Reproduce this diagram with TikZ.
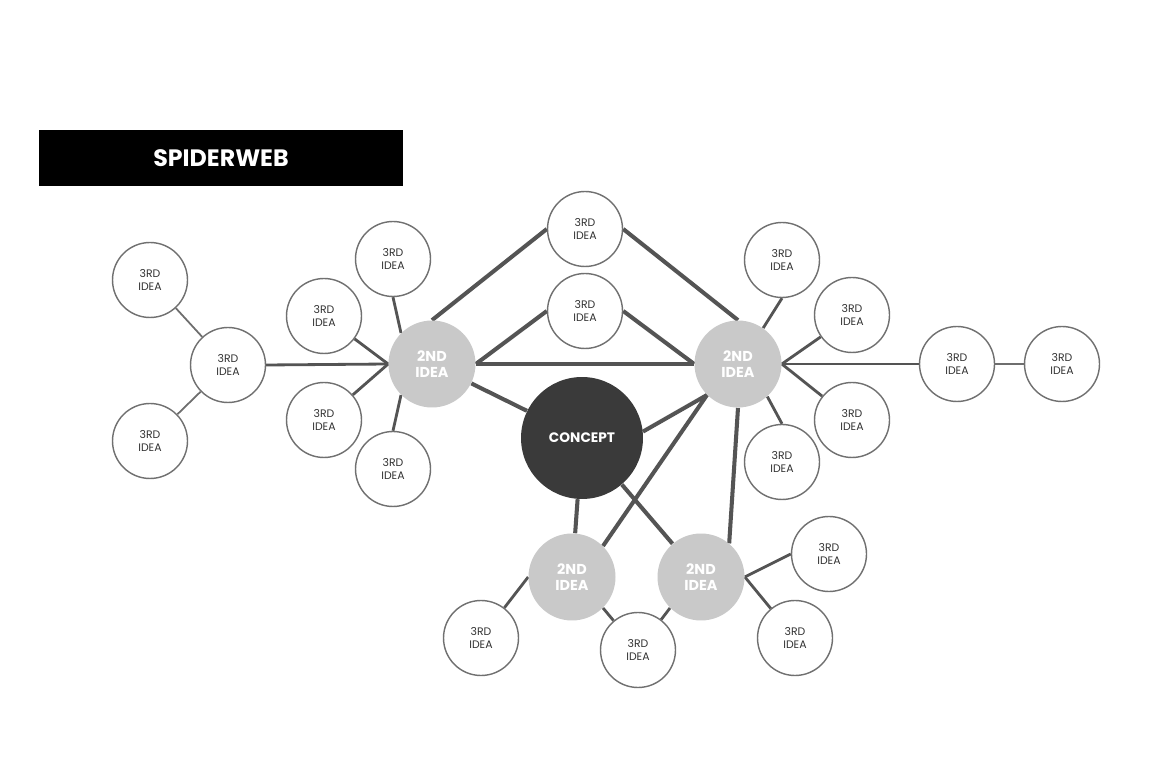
\documentclass[tikz,border=0pt]{standalone}
\usepackage{fontspec}
\setmainfont{Poppins}
\usetikzlibrary{backgrounds}
\definecolor{webgray}{HTML}{545454}
\definecolor{ideagray}{HTML}{C9C9C9}
\definecolor{coregray}{HTML}{3A3A3A}
\definecolor{rimgray}{HTML}{707070}

\begin{document}
\begin{tikzpicture}[x=0.02cm,y=-0.02cm,
  third/.style={circle,draw=rimgray,line width=0.8pt,fill=white,minimum size=1.5cm,inner sep=0pt,
    align=center,text=black!80,font=\fontsize{6.2}{7}\selectfont},
  second/.style={circle,fill=ideagray,minimum size=1.74cm,inner sep=0pt,
    align=center,text=white,font=\fontsize{8.2}{9.2}\selectfont\bfseries},
  web/.style={draw=webgray,line width=2.3pt},
  leg/.style={draw=webgray,line width=1.6pt},
  twig/.style={draw=webgray!85,line width=1pt}]
\useasboundingbox (0,0) rectangle (1149,759);

% title
\node[fill=black,minimum width=7.28cm,minimum height=1.12cm,inner sep=0pt,text=white,
  font=\fontsize{13.5}{15}\selectfont\bfseries] (title) at (221,158) {SPIDERWEB};

% centre and 2nd ideas
\node[circle,fill=coregray,minimum size=2.44cm,inner sep=0pt,text=white,
  font=\fontsize{7.8}{9}\selectfont\bfseries] (cpt) at (582,438) {CONCEPT};
\node[second] (iL) at (432,364) {2ND\\IDEA};
\node[second] (iR) at (738,364) {2ND\\IDEA};
\node[second] (iB1) at (572,577) {2ND\\IDEA};
\node[second] (iB2) at (701,577) {2ND\\IDEA};

% 3rd ideas
\node[third] (tA) at (150,280) {3RD\\IDEA};
\node[third] (tHub) at (228,365) {3RD\\IDEA};
\node[third] (tB) at (150,441) {3RD\\IDEA};
\node[third] (tL1) at (393,259) {3RD\\IDEA};
\node[third] (tL2) at (324,316) {3RD\\IDEA};
\node[third] (tL3) at (324,420) {3RD\\IDEA};
\node[third] (tL4) at (393,469) {3RD\\IDEA};
\node[third] (tTop) at (585,229) {3RD\\IDEA};
\node[third] (tMid) at (585,311) {3RD\\IDEA};
\node[third] (tR1) at (782,260) {3RD\\IDEA};
\node[third] (tR2) at (852,315) {3RD\\IDEA};
\node[third] (tR3) at (852,420) {3RD\\IDEA};
\node[third] (tR4) at (782,462) {3RD\\IDEA};
\node[third] (tRhub) at (957,364) {3RD\\IDEA};
\node[third] (tFar) at (1062,364) {3RD\\IDEA};
\node[third] (tB1) at (481,638) {3RD\\IDEA};
\node[third] (tB2) at (638,650) {3RD\\IDEA};
\node[third] (tB3) at (829,554) {3RD\\IDEA};
\node[third] (tB4) at (795,638) {3RD\\IDEA};

\begin{scope}[on background layer]
\fill[white] (0,0) rectangle (1149,759);
% the web
\draw[web] (iL.north) -- (tTop.west);
\draw[web] (tTop.east) -- (iR.north);
\draw[web] (iL.east) -- (tMid.west);
\draw[web] (tMid.east) -- (iR.west);
\draw[web] (iL.east) -- (iR.west);
\draw[web] (iL) -- (cpt);
\draw[web] (cpt.6) -- (iR.225);
\draw[web] (iR.225) -- (iB1.45);
\draw[web] (iR.south) -- (iB2.50);
\draw[web] (cpt) -- (iB1);
\draw[web] (cpt) -- (iB2);
% legs
\draw[leg] (tHub.east) -- (iL.west);
\draw[leg] (tL2) -- (iL.west);
\draw[leg] (tL3) -- (iL.west);
\draw[leg] (tL1.south) -- (iL.135);
\draw[leg] (tL4.north) -- (iL.225);
\draw[leg] (tR1.south) -- (iR.55);
\draw[leg] (tR2) -- (iR.east);
\draw[leg] (tR3) -- (iR.east);
\draw[leg] (tR4.north) -- (iR.-48);
\draw[leg] (iR.east) -- (tRhub.west);
\draw[leg] (iB1.west) -- (tB1);
\draw[leg] (iB1.-45) -- (tB2);
\draw[leg] (iB2.225) -- (tB2);
\draw[leg] (iB2.east) -- (tB3.west);
\draw[leg] (iB2.east) -- (tB4);
% twigs
\draw[twig] (tHub) -- (tA);
\draw[twig] (tHub) -- (tB);
\draw[twig] (tRhub) -- (tFar);
\end{scope}
\end{tikzpicture}
\end{document}
